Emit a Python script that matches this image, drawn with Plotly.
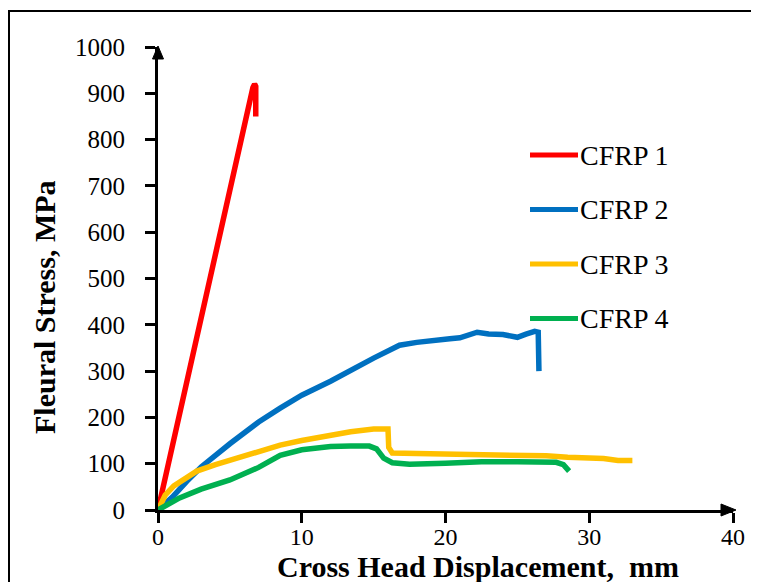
import plotly.graph_objects as go

# ---- data ----
names = ["CFRP 1", "CFRP 2", "CFRP 3", "CFRP 4"]
colors = ["#FF0000", "#0070C0", "#FFC000", "#00B050"]

cfrp1_x = [0, 1, 2, 3, 4, 5, 6, 6.4, 6.6, 6.72, 6.8, 6.8]
cfrp1_y = [0, 140, 280, 420, 560, 695, 828, 885, 912, 920, 915, 850]

cfrp2_x = [0, 1, 2, 3, 5, 7, 8.5, 10, 12, 13.4, 15, 16.8, 18, 20.3, 21, 22.2, 23, 24, 25, 25.6, 26.2, 26.45, 26.5]
cfrp2_y = [0, 28, 62, 93, 143, 190, 220, 248, 278, 302, 328, 356, 362, 370, 372, 384, 380, 379, 373, 380, 386, 384, 300]

cfrp3_x = [0, 0.5, 1.1, 2, 2.7, 4, 5, 7, 8.5, 10, 12, 13.4, 15, 15.7, 16.0, 16.05, 16.3, 18, 20, 22.5, 25, 27, 28.5, 30, 31, 32, 33]
cfrp3_y = [0, 32, 52, 70, 84, 98, 108, 127, 140, 150, 162, 169, 175, 177, 175, 135, 123, 122, 121, 121, 120, 117, 114, 113, 111, 107, 107]

cfrp4_x = [0, 1.5, 3, 5, 7, 8.5, 10, 12, 13.4, 14.7, 15.2, 15.7, 16.3, 17.5, 20, 22.5, 25, 27.7, 28.2, 28.6]
cfrp4_y = [0, 26, 45, 65, 92, 118, 130, 137, 138, 138, 132, 112, 102, 99, 101, 104, 104, 103, 98, 84]

x_ticks = [0, 10, 20, 30, 40]
y_ticks = [0, 100, 200, 300, 400, 500, 600, 700, 800, 900, 1000]

series = [(cfrp1_x, cfrp1_y), (cfrp2_x, cfrp2_y), (cfrp3_x, cfrp3_y), (cfrp4_x, cfrp4_y)]

# ---- layout geometry (pixels, in reference-picture coordinates) ----
OFF = 8  # page body margin shifts the figure by 8 px
W, H = 759 - OFF, 582 - OFF
L = 158 - OFF
T = 47 - OFF
R = W - (733 - OFF)
B = H - (510 - OFF)
PW, PH = W - L - R, H - T - B


def px(x):
    return (x - OFF - L) / PW


def py(y):
    return (H - B - (y - OFF)) / PH


FONT = "Liberation Serif"

fig = go.Figure()
for (xs, ys), name, col in zip(series, names, colors):
    fig.add_trace(go.Scatter(x=xs, y=ys, mode="lines", name=name,
                             line=dict(color=col, width=5.5), showlegend=False))

shapes = []
annotations = []

# frame around the chart
shapes.append(dict(type="rect", xref="paper", yref="paper",
                   x0=px(9), x1=px(775), y0=py(600), y1=py(11),
                   line=dict(color="black", width=2), fillcolor="rgba(0,0,0,0)"))

# axis arrowheads
shapes.append(dict(type="path", xref="paper", yref="paper",
                   path=f"M {px(736)} {py(510)} L {px(721)} {py(504)} L {px(721)} {py(516)} Z",
                   fillcolor="black", line=dict(color="black", width=1)))
shapes.append(dict(type="path", xref="paper", yref="paper",
                   path=f"M {px(158)} {py(46)} L {px(152.5)} {py(59)} L {px(163.5)} {py(59)} Z",
                   fillcolor="black", line=dict(color="black", width=1)))

# manual legend
for i, (name, col) in enumerate(zip(names, colors)):
    yy = 155 + 54.5 * i
    shapes.append(dict(type="line", xref="paper", yref="paper",
                       x0=px(530), x1=px(578), y0=py(yy), y1=py(yy),
                       line=dict(color=col, width=5)))
    annotations.append(dict(text=name, xref="paper", yref="paper",
                            x=px(578), y=py(yy), xanchor="left", yanchor="middle",
                            showarrow=False, font=dict(family=FONT, size=28, color="black")))

# axis titles
annotations.append(dict(text="<b>Cross Head Displacement,  mm</b>", xref="paper", yref="paper",
                        x=px(478), y=py(585), xanchor="center", yanchor="bottom",
                        showarrow=False, font=dict(family=FONT, size=30, color="black")))
annotations.append(dict(text="<b>Fleural Stress, MPa</b>", xref="paper", yref="paper",
                        x=px(44), y=py(307), xanchor="center", yanchor="middle", textangle=-90,
                        showarrow=False, font=dict(family=FONT, size=30, color="black")))

axis_common = dict(showline=True, linecolor="black", linewidth=3, ticks="outside",
                   ticklen=10, tickwidth=3, tickcolor="black", showgrid=False, zeroline=False)

fig.update_layout(
    width=W, height=H,
    margin=dict(l=L, r=R, t=T, b=B, autoexpand=False),
    paper_bgcolor="white", plot_bgcolor="white",
    xaxis=dict(range=[0, 40], tickvals=x_ticks, ticktext=[str(v) for v in x_ticks],
               ticklabelstandoff=-7, tickfont=dict(family=FONT, size=24, color="black"),
               **axis_common),
    yaxis=dict(range=[0, 1000], tickvals=y_ticks, ticktext=[str(v) for v in y_ticks],
               ticklabelstandoff=15, tickfont=dict(family=FONT, size=25, color="black"),
               **axis_common),
    shapes=shapes, annotations=annotations, showlegend=False,
)

fig.write_html("out.html")
